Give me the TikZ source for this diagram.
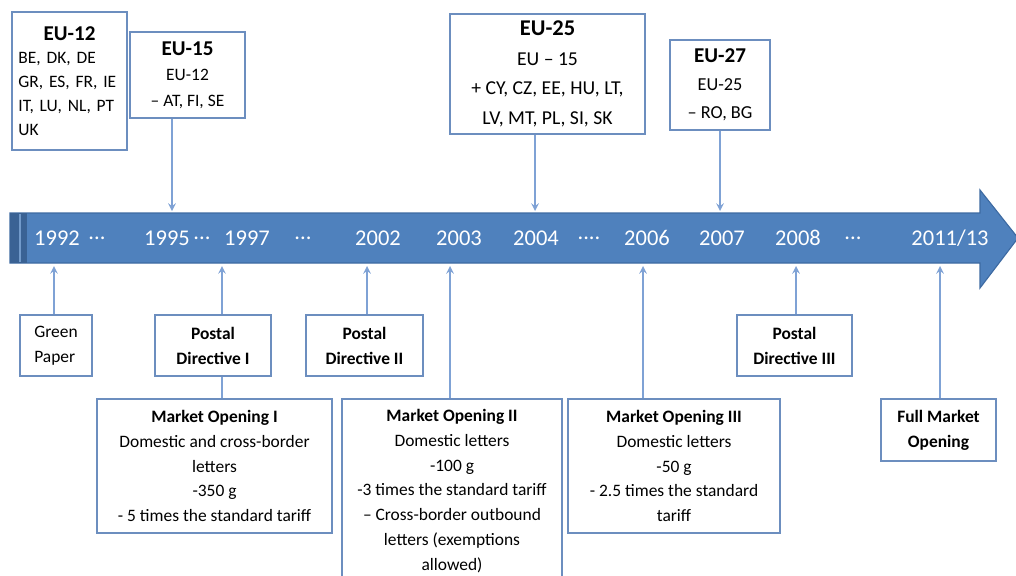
\documentclass[tikz,border=0pt]{standalone}
\usepackage{fontspec}
\setmainfont{Carlito}
\usetikzlibrary{shadows}

\definecolor{bandblue}{HTML}{4F81BD}
\definecolor{bandline}{HTML}{3D6AA2}
\definecolor{bandedge}{HTML}{3A6294}
\definecolor{boxline}{HTML}{6C8EBF}
\definecolor{linkblue}{HTML}{7FA2D5}

\begin{document}
\begin{tikzpicture}[x=0.025cm, y=-0.025cm, >=stealth,
    band/.style={ fill=bandblue, draw=bandline, line width=0.8pt },
    year/.style={ text=white, font=\fontsize{16}{19}\selectfont },
    box/.style={ draw=boxline, line width=1.2pt, fill=white,
      align=center, inner sep=2pt, text=black,
      font=\fontsize{12.4}{17.7}\selectfont,
      drop shadow={ shadow xshift=1pt, shadow yshift=-1pt,
        opacity=0.3, fill=black!60 } },
    link/.style={ draw=linkblue, line width=1.4pt } ]
  \useasboundingbox (0,0) rectangle (1016,575);
  \clip (0,0) rectangle (1016,575);

  % the time line
  \draw[band] (10,213) -- (980,213) -- (980,190) -- (1018,238)
    -- (980,288) -- (980,263) -- (10,263) -- cycle;
  \fill[bandedge] (10,213) rectangle (27,263);
  \draw[bandblue!80, line width=1pt] (20,214) -- (20,262);
  \foreach \x/\t in {57/1992, 97/{...}, 167/1995, 202/{...}, 247/1997,
    303/{...}, 378/2002, 459/2003, 536/2004, 589/{....}, 647/2006,
    722/2007, 798/2008, 853/{...}, 950/{2011/13}}
  \node[year] (yr\x) at (\x,238) {\t};

  % enlargements
  \node[box, align=left, text width=2.55cm, minimum width=2.875cm,
    minimum height=3.45cm, font=\fontsize{12.4}{17}\selectfont]
    (eu12) at (69.5,81)
    {{\centering\fontsize{15}{18}\selectfont\bfseries EU-12\par}
     BE, DK, DE\\ GR, ES, FR, IE\\ IT, LU, NL, PT\\ UK};
  \node[box, minimum width=2.875cm, minimum height=2.15cm,
    font=\fontsize{12.4}{18}\selectfont] (eu15) at (187.5,75)
    {{\fontsize{15}{18}\selectfont\bfseries EU-15}\\ EU-12\\ – AT, FI, SE};
  \node[box, minimum width=4.875cm, minimum height=3cm,
    font=\fontsize{14}{21}\selectfont] (eu25) at (547.5,74)
    {{\fontsize{16}{19}\selectfont\bfseries EU-25}\\ EU – 15\\
     + CY, CZ, EE, HU, LT,\\ LV, MT, PL, SI, SK};
  \node[box, minimum width=2.5cm, minimum height=2.25cm,
    font=\fontsize{13}{20}\selectfont] (eu27) at (720,85)
    {{\fontsize{15}{18}\selectfont\bfseries EU-27}\\ EU-25\\ – RO, BG};

  % directives and market opening
  \node[box, align=left, minimum width=1.8cm, minimum height=1.525cm]
    (green) at (56,345.5) {Green\\ Paper};
  \node[box, font=\fontsize{12.4}{17.7}\selectfont\bfseries,
    minimum width=2.9cm, minimum height=1.525cm]
    (pd1) at (213,345.5) {Postal\\ Directive I};
  \node[box, font=\fontsize{12.4}{17.7}\selectfont\bfseries,
    minimum width=2.925cm, minimum height=1.525cm]
    (pd2) at (364.5,345.5) {Postal\\ Directive II};
  \node[box, font=\fontsize{12.4}{17.7}\selectfont\bfseries,
    minimum width=2.875cm, minimum height=1.525cm]
    (pd3) at (794.5,345.5) {Postal\\ Directive III};
  \node[box, minimum width=5.875cm, minimum height=3.35cm]
    (mo1) at (214.5,466)
    {\textbf{Market Opening I}\\ Domestic and cross-border\\ letters\\
     -350 g\\ - 5 times the standard tariff};
  \node[box, minimum width=5.5cm, minimum height=4.6cm]
    (mo2) at (452,491)
    {\textbf{Market Opening II}\\ Domestic letters\\ -100 g\\
     -3 times the standard tariff\\ – Cross-border outbound\\
     letters (exemptions\\ allowed)};
  \node[box, minimum width=5.3cm, minimum height=3.35cm]
    (mo3) at (674,466)
    {\textbf{Market Opening III}\\ Domestic letters\\ -50 g\\
     - 2.5 times the standard\\ tariff};
  \node[box, font=\fontsize{12.4}{17.7}\selectfont\bfseries,
    minimum width=2.875cm, minimum height=1.55cm]
    (fmo) at (938.5,430) {Full Market\\ Opening};

  % arrows onto the time line
  \foreach \b/\x in {eu15/172, eu25/535, eu27/720} {
    \coordinate (to\b) at (\x,211);
    \draw[link,->] (\b.south -| to\b) -- (to\b);
  }
  \foreach \b/\x in {green/54, pd1/222, pd2/367, mo2/450, mo3/643,
    pd3/796, fmo/940} {
    \coordinate (to\b) at (\x,266);
    \draw[link,->] (\b.north -| to\b) -- (to\b);
  }
  \draw[link] (mo1.north -| topd1) -- (pd1.south -| topd1);
\end{tikzpicture}
\end{document}
